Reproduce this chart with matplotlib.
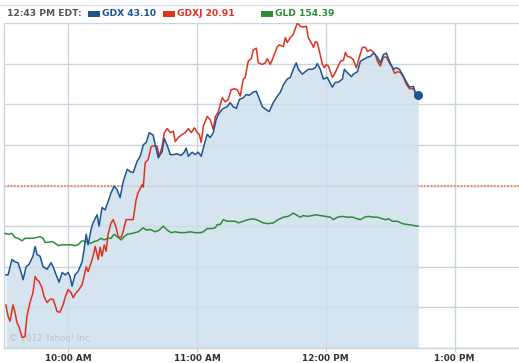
import matplotlib
matplotlib.use('Agg')
import matplotlib.pyplot as plt
from matplotlib.patches import Rectangle

# minutes after 9:30 AM, % change vs previous close
gdx_t = [0.9, 1.9, 3.7, 5.1, 6.5, 7.9, 8.9, 10.3, 11.7, 13.5, 14.5, 15.4, 16.8, 18.2, 20.1, 21.9, 22.9,
         24.3, 25.7, 27.1, 28.5, 29.9, 30.8, 31.7, 33.1, 34.5, 36.4, 37.3, 38.3, 39.2, 40.6, 41.5, 43.4,
         44.3, 45.7, 47.1, 48.5, 49.9, 51.3, 52.7, 54.1, 55.5, 57.4, 58.8, 60.2, 62.1, 63.5, 64.9, 66.3,
         67.7, 69.5, 70.5, 71.9, 73.7, 74.7, 76.1, 77.5, 78.9, 80.7, 82.6, 84.0, 84.9, 85.9, 87.7, 89.1,
         90.5, 91.9, 93.3, 94.7, 96.1, 97.5, 98.9, 99.8, 101.7, 103.1, 104.0, 105.4, 106.8, 108.3, 109.7,
         111.5, 112.9, 114.3, 116.2, 117.6, 118.5, 120.4, 121.8, 123.6, 125.5, 127.4, 128.8, 130.2, 132.0,
         133.4, 134.8, 136.2, 137.2, 139.0, 140.4, 141.8, 143.7, 145.1, 146.0, 147.4, 148.8, 150.7, 151.6,
         153.0, 154.4, 155.8, 157.7, 158.6, 160.0, 161.9, 162.8, 164.7, 166.1, 167.5, 169.4, 170.8, 172.2,
         174.0, 175.4, 176.8, 178.2, 179.6, 181.5, 182.9, 184.3, 186.2, 187.6, 189.0, 190.8, 191.8, 193.0]
gdx_v = [-1.10, -1.10, -0.91, -0.94, -0.95, -1.06, -1.16, -1.00, -0.97, -0.87, -0.75, -0.85, -0.87, -1.00,
         -1.03, -0.95, -1.00, -1.10, -1.19, -1.07, -1.10, -1.07, -1.12, -1.24, -1.10, -1.06, -0.94, -0.79,
         -0.60, -0.73, -0.54, -0.46, -0.36, -0.50, -0.27, -0.30, -0.20, -0.09, -0.01, -0.05, -0.15, 0.04,
         0.20, 0.17, 0.16, 0.30, 0.36, 0.50, 0.53, 0.65, 0.62, 0.50, 0.34, 0.42, 0.58, 0.49, 0.38, 0.38,
         0.39, 0.37, 0.41, 0.46, 0.36, 0.41, 0.38, 0.41, 0.36, 0.50, 0.63, 0.59, 0.65, 0.81, 0.87, 0.94,
         0.96, 0.97, 1.02, 0.97, 0.95, 1.06, 1.08, 1.12, 1.11, 1.15, 1.16, 1.10, 0.97, 0.94, 0.91, 1.02,
         1.10, 1.15, 1.24, 1.31, 1.33, 1.43, 1.51, 1.43, 1.37, 1.40, 1.43, 1.43, 1.45, 1.50, 1.43, 1.31,
         1.33, 1.28, 1.21, 1.27, 1.27, 1.31, 1.43, 1.39, 1.34, 1.37, 1.40, 1.53, 1.55, 1.58, 1.59, 1.63,
         1.58, 1.51, 1.61, 1.63, 1.53, 1.43, 1.45, 1.43, 1.34, 1.27, 1.21, 1.22, 1.12, 1.11]

gdxj_t = [0.9, 1.9, 2.8, 4.2, 5.1, 6.1, 7.0, 8.4, 9.8, 10.7, 12.1, 13.5, 14.5, 15.4, 16.3, 17.7, 18.7,
          20.1, 21.5, 22.9, 23.8, 24.7, 26.1, 27.5, 28.5, 29.9, 31.3, 32.2, 33.6, 35.0, 36.4, 37.3, 38.3,
          39.2, 40.6, 41.5, 42.5, 43.9, 44.8, 45.7, 46.7, 47.6, 48.5, 49.9, 50.9, 52.3, 53.2, 54.6, 55.5,
          56.9, 58.8, 60.2, 61.6, 62.5, 64.4, 64.9, 65.8, 67.2, 68.6, 70.0, 71.4, 72.3, 73.7, 74.7, 76.1,
          77.5, 78.9, 79.8, 81.2, 83.1, 84.5, 85.9, 87.3, 88.7, 90.1, 91.0, 91.9, 92.9, 94.7, 96.1, 97.5,
          98.5, 99.8, 101.7, 103.1, 104.5, 105.9, 107.3, 108.7, 110.1, 111.5, 112.4, 113.8, 115.2, 116.2,
          117.6, 118.5, 120.4, 121.8, 122.7, 124.1, 125.5, 127.4, 128.3, 130.2, 131.1, 132.0, 133.4, 134.8,
          136.7, 138.1, 139.5, 140.9, 141.8, 143.7, 144.2, 145.1, 146.0, 147.0, 148.4, 149.3, 150.2, 151.2,
          153.0, 154.0, 155.4, 156.8, 158.2, 159.1, 160.0, 161.4, 162.8, 164.2, 165.6, 167.0, 168.4, 169.4,
          170.8, 172.2, 173.1, 174.0, 175.4, 176.8, 178.2, 179.6, 181.0, 182.0, 183.4, 184.8, 186.2, 187.6,
          189.0, 190.8, 193.0]
gdxj_v = [-1.47, -1.61, -1.67, -1.47, -1.56, -1.69, -1.74, -1.87, -1.86, -1.61, -1.44, -1.32, -1.12, -1.16,
          -1.18, -1.26, -1.37, -1.44, -1.40, -1.40, -1.47, -1.55, -1.56, -1.47, -1.38, -1.28, -1.32, -1.38,
          -1.32, -1.28, -1.22, -1.12, -1.00, -1.06, -0.95, -0.87, -0.75, -0.91, -0.76, -0.87, -0.73, -0.81,
          -0.60, -0.46, -0.42, -0.52, -0.63, -0.64, -0.57, -0.42, -0.42, -0.42, -0.17, -0.09, 0.01, -0.02,
          0.28, 0.32, 0.48, 0.49, 0.48, 0.36, 0.48, 0.65, 0.70, 0.65, 0.67, 0.54, 0.59, 0.63, 0.65, 0.70,
          0.65, 0.71, 0.65, 0.63, 0.53, 0.73, 0.85, 0.81, 0.69, 0.85, 0.90, 1.08, 1.03, 1.06, 1.18, 1.19,
          1.18, 1.10, 1.31, 1.33, 1.53, 1.56, 1.67, 1.69, 1.51, 1.49, 1.51, 1.56, 1.49, 1.58, 1.71, 1.73,
          1.71, 1.82, 1.76, 1.82, 1.86, 2.00, 1.96, 1.95, 1.96, 1.82, 1.73, 1.70, 1.77, 1.76, 1.65, 1.49,
          1.45, 1.49, 1.47, 1.33, 1.37, 1.45, 1.53, 1.54, 1.64, 1.59, 1.58, 1.55, 1.45, 1.58, 1.70, 1.70,
          1.65, 1.67, 1.64, 1.61, 1.53, 1.47, 1.58, 1.58, 1.51, 1.45, 1.38, 1.40, 1.39, 1.33, 1.24, 1.19,
          1.19, 1.10]

gld_t = [0.5, 1.9, 3.7, 5.1, 6.5, 8.4, 9.8, 11.2, 13.1, 15.4, 16.8, 18.2, 19.1, 20.5, 22.4, 23.8, 25.2,
         27.1, 28.5, 29.9, 31.7, 33.1, 34.5, 36.4, 37.8, 38.7, 40.6, 42.0, 43.4, 45.3, 46.7, 48.1, 49.9,
         51.3, 52.7, 54.6, 56.0, 57.4, 59.7, 61.1, 62.5, 64.9, 66.3, 68.1, 70.5, 72.3, 74.2, 76.1, 77.9,
         79.8, 82.1, 84.5, 86.8, 89.1, 91.5, 92.9, 94.7, 97.1, 98.5, 99.4, 100.8, 102.2, 104.0, 106.4,
         107.8, 109.2, 111.5, 113.8, 116.2, 118.5, 120.8, 123.2, 125.5, 127.8, 130.2, 132.5, 134.8, 136.7,
         138.1, 139.5, 141.4, 143.7, 145.6, 147.4, 149.8, 152.1, 153.5, 155.4, 157.7, 160.0, 162.4, 164.7,
         166.1, 168.0, 169.8, 172.2, 174.0, 176.4, 177.8, 179.2, 181.0, 183.4, 185.7, 188.0, 190.4, 193.0]
gld_v = [-0.59, -0.60, -0.59, -0.64, -0.65, -0.68, -0.65, -0.65, -0.65, -0.64, -0.63, -0.65, -0.70, -0.70,
         -0.69, -0.71, -0.74, -0.73, -0.73, -0.73, -0.73, -0.74, -0.73, -0.68, -0.69, -0.70, -0.71, -0.69,
         -0.68, -0.65, -0.67, -0.65, -0.65, -0.60, -0.63, -0.67, -0.63, -0.60, -0.59, -0.58, -0.57, -0.52,
         -0.55, -0.54, -0.57, -0.55, -0.50, -0.55, -0.58, -0.57, -0.58, -0.58, -0.57, -0.58, -0.58, -0.57,
         -0.53, -0.53, -0.52, -0.48, -0.48, -0.42, -0.44, -0.44, -0.44, -0.46, -0.44, -0.42, -0.41, -0.43,
         -0.46, -0.47, -0.46, -0.42, -0.39, -0.38, -0.34, -0.37, -0.39, -0.37, -0.38, -0.37, -0.36, -0.37,
         -0.38, -0.39, -0.42, -0.39, -0.38, -0.39, -0.39, -0.41, -0.42, -0.39, -0.38, -0.39, -0.39, -0.41,
         -0.42, -0.41, -0.44, -0.44, -0.47, -0.48, -0.49, -0.50]

symbols = ['GDX', 'GDXJ', 'GLD']
last_prices = ['43.10', '20.91', '154.39']
colors = ['#1d5592', '#e03220', '#2f8a3c']
stamp = '12:43 PM EDT:'

tick_pos = [30, 90, 150, 210]
tick_labels = ['10:00 AM', '11:00 AM', '12:00 PM', '1:00 PM']

W, H = 519, 363
fig = plt.figure(figsize=(W / 100, H / 100), dpi=100)


def fx(x):
    return x / W


def fy(y):
    return 1 - y / H


ax = fig.add_axes([fx(4), fy(348), fx(515), (348 - 23) / H])
grid_c = '#c9d5de'

ax.set_xlim(0, 240)
ax.set_ylim(-2, 2)
ax.set_yticks([-2, -1.5, -1, -0.5, 0, 0.5, 1, 1.5, 2])
ax.set_yticklabels([])
ax.set_xticks(tick_pos)
ax.set_xticklabels(tick_labels, fontsize=6.4, fontweight='bold', color='#333333')
ax.tick_params(axis='x', length=3, color=grid_c, pad=1.5)
ax.tick_params(axis='y', length=0)
ax.grid(True, color=grid_c, lw=1, zorder=0)
ax.set_axisbelow(True)
for s in ['top', 'right']:
    ax.spines[s].set_visible(False)
for s in ['left', 'bottom']:
    ax.spines[s].set_color(grid_c)
    ax.spines[s].set_linewidth(1)

ax.axhline(0, color='#f07a50', lw=1.2, ls=(0, (1, 1)), zorder=1)

ax.fill_between(gdx_t, gdx_v, -2, color='#cbdeec', alpha=0.8, lw=0, zorder=2)
ax.plot(gld_t, gld_v, color=colors[2], lw=1.1, zorder=3)
ax.plot(gdxj_t, gdxj_v, color=colors[1], lw=1.1, zorder=4)
ax.plot(gdx_t, gdx_v, color=colors[0], lw=1.1, zorder=5)
ax.plot(gdx_t[-1], gdx_v[-1], 'o', color=colors[0], ms=5.5, zorder=6)

ax.text(0.01, 0.015, '\u00a9 2012 Yahoo! Inc.', transform=ax.transAxes,
        fontsize=6.2, color='#b8c4cc', va='bottom')

# header
fig.add_artist(plt.Line2D([0, 1], [fy(5), fy(5)], color='#dde3e8', lw=1))
fig.text(fx(7), fy(14), stamp, fontsize=6.6, fontweight='bold', color='#555555', va='center')
box_x = [88, 163, 261]
for i in range(3):
    fig.add_artist(Rectangle((fx(box_x[i]), fy(16.5)), fx(12), 5 / H,
                             transform=fig.transFigure, color=colors[i], lw=0))
    fig.text(fx(box_x[i] + 14), fy(14), symbols[i] + ' ' + last_prices[i], fontsize=6.6,
             fontweight='bold', color=colors[i], va='center')

fig.savefig('out.png', dpi=100)
